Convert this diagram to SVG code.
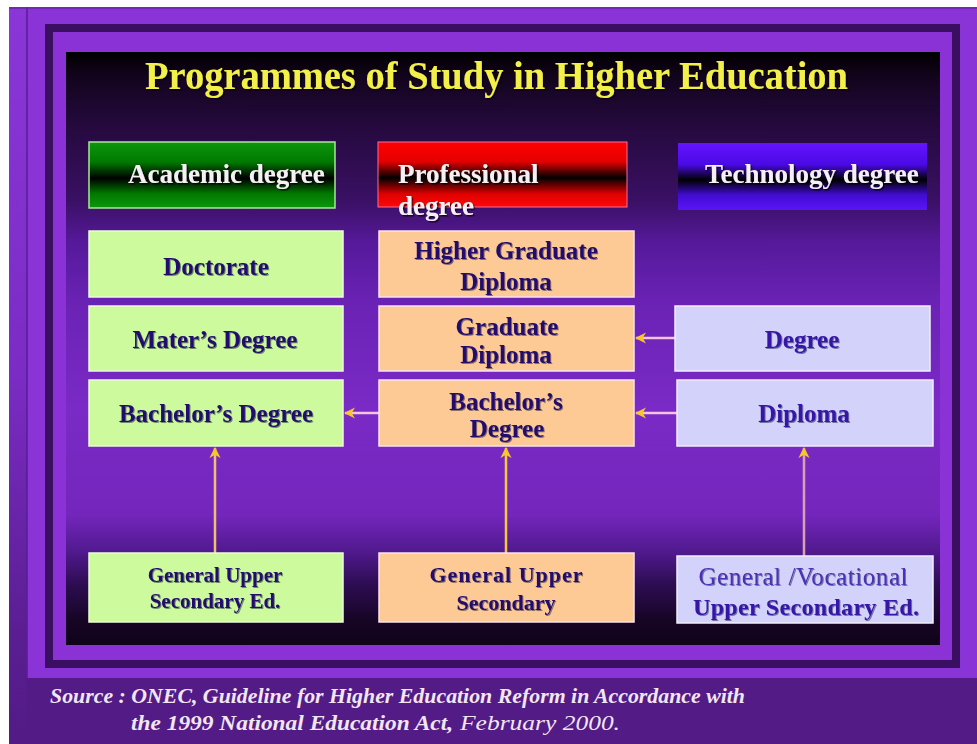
<svg xmlns="http://www.w3.org/2000/svg" width="977" height="744" viewBox="0 0 977 744">
<defs>
<style>
.ttl{font-family:"Liberation Serif","Times New Roman",serif;font-weight:bold;font-size:41px;fill:#f2f04a;}
.hdr{font-family:"Liberation Serif","Times New Roman",serif;font-weight:bold;font-size:27px;fill:#f4f0f4;}
.nt{font-family:"Liberation Serif","Times New Roman",serif;font-weight:bold;font-size:25px;fill:#24106e;text-anchor:middle;}
.ntr{fill:#3418a6;}
.reg{font-weight:normal;}
.src{font-family:"Liberation Serif","Times New Roman",serif;font-style:italic;font-weight:bold;font-size:22px;fill:#f2e6f4;}
.grn{fill:#ccfa9c;stroke:#eafbd8;stroke-width:1.5;}
.org{fill:#fdca96;stroke:#fbe2ef;stroke-width:1.5;}
.lav{fill:#d2d2fa;stroke:#f4ecfb;stroke-width:1.5;}
.conn line{stroke-width:2.5;fill:none;marker-end:url(#ah);}
</style>
<marker id="ah" viewBox="0 0 10 10" refX="9" refY="5" markerWidth="4.5" markerHeight="4.5" orient="auto" markerUnits="strokeWidth">
<path d="M0,0 L10,5 L0,10 L3,5 Z" fill="#f7c62a"/>
</marker>
<linearGradient id="panel" x1="0" y1="52" x2="0" y2="645" gradientUnits="userSpaceOnUse">
<stop offset="0" stop-color="#000000"/>
<stop offset="0.04" stop-color="#12041c"/>
<stop offset="0.12" stop-color="#24093c"/>
<stop offset="0.25" stop-color="#3a1064"/>
<stop offset="0.32" stop-color="#55199a"/>
<stop offset="0.42" stop-color="#6a22b4"/>
<stop offset="0.6" stop-color="#7a2ac6"/>
<stop offset="0.78" stop-color="#7426bc"/>
<stop offset="0.84" stop-color="#521a90"/>
<stop offset="0.9" stop-color="#2c0c50"/>
<stop offset="0.96" stop-color="#160524"/>
<stop offset="1" stop-color="#10031a"/>
</linearGradient>
<linearGradient id="leftStrip" x1="0" y1="7" x2="0" y2="744" gradientUnits="userSpaceOnUse">
<stop offset="0" stop-color="#8a36d8"/>
<stop offset="0.5" stop-color="#7a2cc4"/>
<stop offset="0.85" stop-color="#5a1e92"/>
<stop offset="1" stop-color="#521b85"/>
</linearGradient>
<linearGradient id="gGreen" x1="0" y1="0" x2="0" y2="1">
<stop offset="0" stop-color="#0e960e"/>
<stop offset="0.3" stop-color="#007a00"/>
<stop offset="0.55" stop-color="#000000"/>
<stop offset="0.78" stop-color="#007800"/>
<stop offset="1" stop-color="#0c980c"/>
</linearGradient>
<linearGradient id="gRed" x1="0" y1="0" x2="0" y2="1">
<stop offset="0" stop-color="#ff0000"/>
<stop offset="0.3" stop-color="#e40000"/>
<stop offset="0.55" stop-color="#000000"/>
<stop offset="0.8" stop-color="#e00000"/>
<stop offset="1" stop-color="#ff0808"/>
</linearGradient>
<linearGradient id="gBlue" x1="0" y1="0" x2="0" y2="1">
<stop offset="0" stop-color="#6414ff"/>
<stop offset="0.32" stop-color="#4a0ae4"/>
<stop offset="0.55" stop-color="#000000"/>
<stop offset="0.78" stop-color="#420cd4"/>
<stop offset="1" stop-color="#5c14f4"/>
</linearGradient>
<filter id="sh" x="-5%" y="-20%" width="110%" height="140%">
<feDropShadow dx="1.5" dy="1.5" stdDeviation="0.6" flood-color="#000000" flood-opacity="0.7"/>
</filter>
<filter id="shl" x="-5%" y="-20%" width="110%" height="140%">
<feDropShadow dx="1" dy="1" stdDeviation="0.5" flood-color="#100030" flood-opacity="0.45"/>
</filter>
</defs>

<!-- background & frame -->
<rect x="0" y="0" width="977" height="744" fill="#ffffff"/>
<rect x="9" y="7" width="968" height="737" fill="#521b85"/>
<rect x="9" y="7" width="18" height="737" fill="url(#leftStrip)"/>
<rect x="27" y="7" width="950" height="671" fill="#8a34d8"/>
<line x1="27" y1="7" x2="27" y2="678" stroke="#5a1c92" stroke-width="1.5"/>
<line x1="9" y1="8" x2="977" y2="8" stroke="#6a26a8" stroke-width="1.5"/>
<rect x="49" y="28" width="907" height="636" fill="#8a32d6" stroke="#3a0e60" stroke-width="8"/>
<rect x="66" y="52" width="874" height="593" fill="url(#panel)"/>

<!-- title -->
<text class="ttl" x="145" y="89" textLength="703" lengthAdjust="spacingAndGlyphs" filter="url(#sh)">Programmes of Study in Higher Education</text>

<!-- headers -->
<g id="hdr-academic">
<rect x="89" y="142" width="246" height="66" fill="url(#gGreen)" stroke="#a8e898" stroke-width="1.5"/>
<text class="hdr" x="128" y="183" filter="url(#sh)">Academic degree</text>
</g>
<g id="hdr-professional">
<rect x="378" y="142" width="249" height="65" fill="url(#gRed)" stroke="#f070a0" stroke-width="1"/>
<text class="hdr" x="398" y="183" filter="url(#sh)">Professional</text>
<text class="hdr" x="398" y="215" filter="url(#sh)">degree</text>
</g>
<g id="hdr-technology">
<rect x="678" y="143" width="249" height="67" fill="url(#gBlue)"/>
<text class="hdr" x="705" y="183" filter="url(#sh)">Technology degree</text>
</g>

<!-- connectors -->
<g id="connectors" class="conn">
<line x1="675" y1="338" x2="636" y2="338" stroke="#f4c4de"/>
<line x1="677" y1="413" x2="636" y2="413" stroke="#f4c4de"/>
<line x1="379" y1="413" x2="345" y2="413" stroke="#f4c4de"/>
<line x1="215" y1="553" x2="215" y2="448" stroke="#f0c070"/>
<line x1="506" y1="553" x2="506" y2="448" stroke="#f6c83a"/>
<line x1="804" y1="556" x2="804" y2="448" stroke="#d8a0b4"/>
</g>

<!-- academic column -->
<g id="doctorate">
<rect class="grn" x="89" y="231" width="254" height="66"/>
<text class="nt" x="216" y="275" filter="url(#shl)">Doctorate</text>
</g>
<g id="masters">
<rect class="grn" x="89" y="306" width="254" height="65"/>
<text class="nt" x="215" y="348" filter="url(#shl)">Mater’s Degree</text>
</g>
<g id="bachelor-academic">
<rect class="grn" x="89" y="380" width="254" height="66"/>
<text class="nt" x="216" y="422" filter="url(#shl)">Bachelor’s Degree</text>
</g>
<g id="gen-upper-academic">
<rect class="grn" x="89" y="553" width="254" height="69"/>
<text class="nt" x="215" y="582" style="font-size:21px" filter="url(#shl)">General Upper</text>
<text class="nt" x="215" y="608" style="font-size:21px" filter="url(#shl)">Secondary Ed.</text>
</g>

<!-- professional column -->
<g id="higher-grad-diploma">
<rect class="org" x="379" y="231" width="255" height="66"/>
<text class="nt" x="506" y="259" filter="url(#shl)">Higher Graduate</text>
<text class="nt" x="506" y="290" filter="url(#shl)">Diploma</text>
</g>
<g id="grad-diploma">
<rect class="org" x="379" y="306" width="255" height="65"/>
<text class="nt" x="507" y="335" filter="url(#shl)">Graduate</text>
<text class="nt" x="506" y="363" filter="url(#shl)">Diploma</text>
</g>
<g id="bachelor-professional">
<rect class="org" x="379" y="380" width="255" height="66"/>
<text class="nt" x="506" y="410" filter="url(#shl)">Bachelor’s</text>
<text class="nt" x="507" y="437" filter="url(#shl)">Degree</text>
</g>
<g id="gen-upper-professional">
<rect class="org" x="379" y="553" width="255" height="69"/>
<text class="nt" x="506" y="582" style="font-size:22px" textLength="153" filter="url(#shl)">General Upper</text>
<text class="nt" x="506" y="610" style="font-size:22px" filter="url(#shl)">Secondary</text>
</g>

<!-- technology column -->
<g id="degree-tech">
<rect class="lav" x="675" y="306" width="255" height="65"/>
<text class="nt ntr" x="802" y="348" filter="url(#shl)">Degree</text>
</g>
<g id="diploma-tech">
<rect class="lav" x="677" y="380" width="256" height="66"/>
<text class="nt ntr" x="804" y="422" filter="url(#shl)">Diploma</text>
</g>
<g id="gen-voc-tech">
<rect class="lav" x="677" y="556" width="256" height="67"/>
<text class="nt ntr reg" x="803" y="585" style="fill:#4a30b4" textLength="209" filter="url(#shl)">General /Vocational</text>
<text class="nt ntr" x="806" y="615" textLength="226" style="font-size:24px" filter="url(#shl)">Upper Secondary Ed.</text>
</g>

<!-- source -->
<text class="src" x="50" y="703" textLength="695" lengthAdjust="spacingAndGlyphs">Source : ONEC, Guideline for Higher Education Reform in Accordance with</text>
<text class="src" x="131" y="730"><tspan textLength="322" lengthAdjust="spacingAndGlyphs">the 1999 National Education Act,</tspan><tspan x="460" style="font-weight:normal" textLength="160" lengthAdjust="spacingAndGlyphs">February 2000.</tspan></text>
</svg>
